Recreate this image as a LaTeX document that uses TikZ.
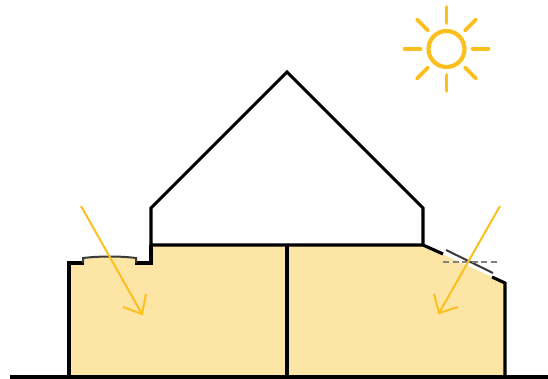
\documentclass[tikz,border=0pt]{standalone}
\usepackage{tikz}
\usetikzlibrary{calc}
\definecolor{wall}{HTML}{FCE5A5}
\definecolor{sunny}{HTML}{FCBF1E}
\definecolor{glass}{HTML}{3A3A3A}
\begin{document}
\begin{tikzpicture}[x=1pt,y=-1pt,
    outline/.style={black,line width=3.1pt,line join=miter},
    ray/.style={sunny,line width=2pt},
    sunray/.style={sunny,line width=3.6pt,line cap=round}]
  \useasboundingbox (0,0) rectangle (548,379);
  % heated part below the roof
  \fill[wall] (69,377) -- (69,263) -- (83,263) -- (83,258) .. controls (100,256) and (120,256) .. (136,258)
    -- (136,263) -- (151,263) -- (151,245) -- (423,245) -- (505,283) -- (505,377) -- cycle;
  % roof and walls
  \draw[outline] (151,245) -- (151,208) -- (287,72) -- (423,208) -- (423,245);
  \draw[outline] (151,245) -- (423,245) -- (443,254);
  \draw[outline] (287,245) -- (287,377);
  \draw[outline] (492,277) -- (505,283) -- (505,377);
  \draw[outline] (69,377) -- (69,263) -- (84,263);
  \draw[outline] (135,263) -- (151,263) -- (151,245);
  \draw[outline] (10,377) -- (548,377);
  % windows
  \draw[glass,line width=2pt] (83,263) -- (83,258) .. controls (100,256) and (120,256) .. (136,258) -- (136,263);
  \draw[glass,line width=2pt] (446,250) -- (493,273);
  \draw[gray,line width=1.4pt,dashed,dash pattern=on 6pt off 3.5pt] (443,262) -- (497,262);
  % incoming light
  \draw[ray] (81,206) -- (142,314);
  \draw[ray] (146,294) -- (142,314) -- (123,307);
  \draw[ray] (500,206) -- (439,313);
  \draw[ray] (434,294) -- (439,313) -- (458,307);
  % sun
  \coordinate (sun) at (446.5,49);
  \draw[sunny,line width=4.2pt] (sun) circle[radius=18];
  \foreach \ang in {0,45,...,315} {
    \draw[sunray] ($(sun)+(\ang:26)$) -- ($(sun)+(\ang:42)$);
  }
\end{tikzpicture}
\end{document}
